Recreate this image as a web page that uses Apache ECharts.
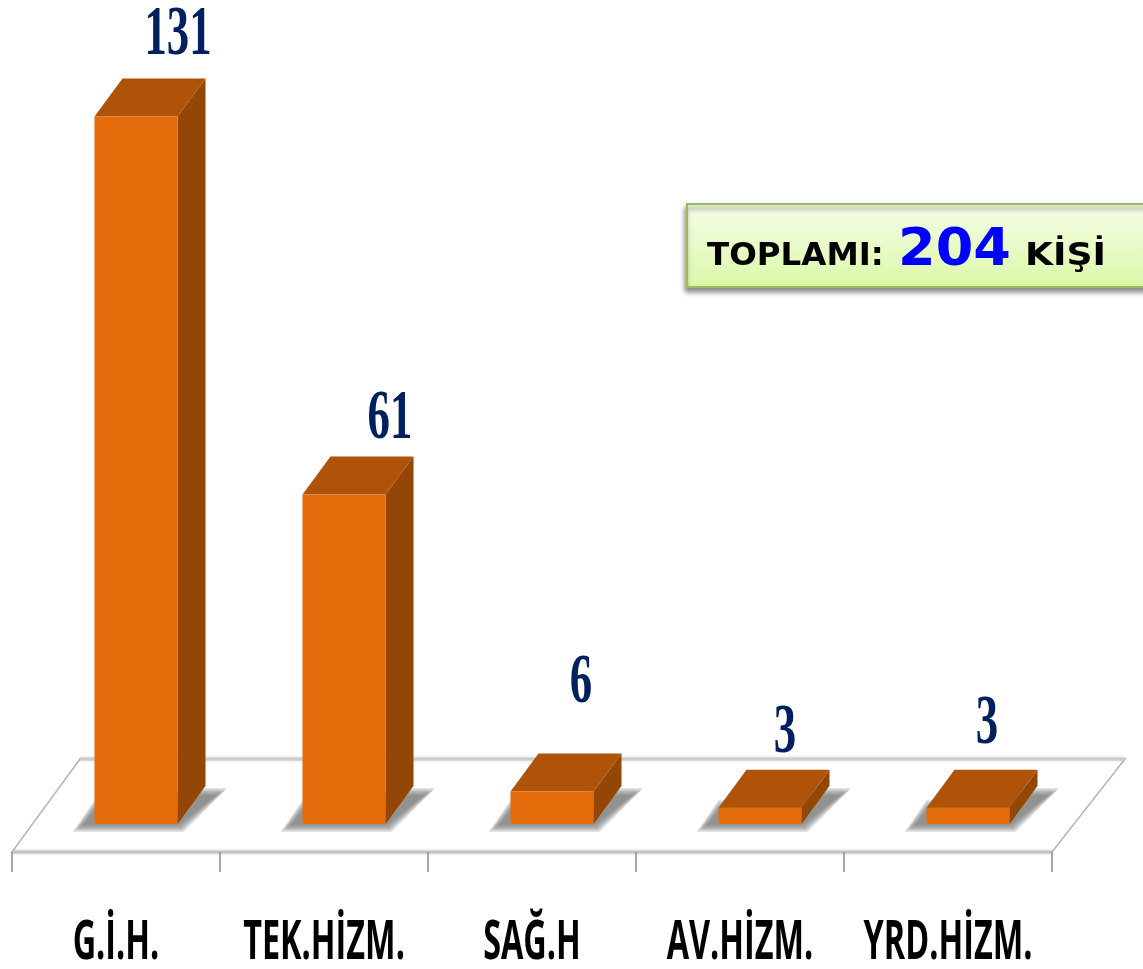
<!DOCTYPE html>
<html>
<head>
<meta charset="utf-8">
<style>html,body{margin:0;padding:0;background:#fff}#main{width:1143px;height:969px}</style>
<script src="https://cdn.jsdelivr.net/npm/echarts@6/dist/echarts.min.js"></script>
</head>
<body>
<div id="main"></div>
<script>
var categories = ['G.İ.H.', 'TEK.HİZM.', 'SAĞ.H', 'AV.HİZM.', 'YRD.HİZM.'];
var values = [131, 61, 6, 3, 3];
var total = 204;

// the value labels were placed by hand in the original
var labelShiftX = [42, 46, 29, 25, 19];
var labelShiftY = [43, 37, 70, 36, 45];

var chart = echarts.init(document.getElementById('main'));

// bars stand back from the axis on the floor, then get a side and top face
var backX = 20, backY = 28;
var barWidth = 83;
var depthX = 28, depthY = 38;

// floor shadow: stacked see-through polygons, each a bit bigger, gives a soft edge
function shadowLayers(x0, x1, y0) {
    var layers = [];
    for (var g = 10; g >= 0; g -= 2) {
        layers.push({
            type: 'polygon',
            shape: {
                points: [
                    [x0 - 12 - g, y0 + 1 + g * 0.7],
                    [x1 + 1 + g * 0.5, y0 + 1 + g * 0.7],
                    [x1 + depthX + 12 + g, y0 - depthY + 9 - g * 0.7],
                    [x1 + depthX, y0 - depthY + 9 - g * 0.7],
                    [x0, y0 - 14 - g]
                ]
            },
            style: { fill: 'rgba(110,110,110,0.2)' }
        });
    }
    return layers;
}

function renderBar(params, api) {
    var i = params.dataIndex;
    var v = api.value(1);
    var base = api.coord([api.value(0), 0]);
    var top = api.coord([api.value(0), v]);
    var x0 = base[0] + backX - barWidth / 2;
    var x1 = x0 + barWidth;
    var y0 = base[1] - backY;
    var y1 = top[1] - backY;
    return {
        type: 'group',
        children: shadowLayers(x0, x1, y0).concat([
            {
                type: 'polygon',
                shape: { points: [[x1, y1], [x1 + depthX, y1 - depthY], [x1 + depthX, y0 - depthY], [x1, y0]] },
                style: { fill: '#934605' }
            },
            {
                type: 'polygon',
                shape: { points: [[x0, y1], [x0 + depthX, y1 - depthY], [x1 + depthX, y1 - depthY], [x1, y1]] },
                style: { fill: '#AE5307' }
            },
            {
                type: 'rect',
                shape: { x: x0, y: y1, width: barWidth, height: y0 - y1 },
                style: { fill: '#E46C0A' }
            },
            { // value label, squeezed to the narrow serif of the original
                type: 'text',
                x: x0 + barWidth / 2 + labelShiftX[i],
                y: y1 - depthY - labelShiftY[i],
                scaleX: 0.64,
                style: {
                    text: String(v),
                    font: 'bold 70px "Liberation Serif"',
                    fill: '#002060',
                    align: 'center',
                    verticalAlign: 'middle'
                }
            },
            { // category label, drawn here because axisLabel cannot be condensed
                type: 'text',
                x: base[0],
                y: base[1] + 92,
                scaleX: 0.6,
                style: {
                    text: categories[i],
                    font: 'bold 54px "Open Sans"',
                    fill: '#000000',
                    align: 'center',
                    verticalAlign: 'middle'
                }
            }
        ])
    };
}

var totalStyle = { font: 'bold 32px "DejaVu Sans"', fill: '#000000', verticalAlign: 'bottom' };

var option = {
    animation: false,
    backgroundColor: '#ffffff',
    grid: { left: 12, right: 91, top: 42, bottom: 117 },
    xAxis: {
        type: 'category',
        data: categories,
        offset: 4,
        axisLine: { show: false },
        axisTick: { show: true, length: 20, lineStyle: { color: '#8c8c8c', width: 1.5 } },
        axisLabel: { show: false }
    },
    yAxis: {
        type: 'value',
        min: 0,
        max: 150,
        show: false
    },
    graphic: [
        { // floor plane
            type: 'polygon',
            z: 0,
            shape: { points: [[12, 852], [1052, 852], [1125, 759], [80, 759]] },
            style: { fill: '#ffffff', stroke: '#b4b4b4', lineWidth: 1.5 }
        },
        {
            type: 'line',
            z: 0,
            shape: { x1: 12, y1: 852, x2: 1052, y2: 852 },
            style: { stroke: '#c4c4c4', lineWidth: 3, shadowBlur: 3, shadowColor: 'rgba(0,0,0,0.2)' }
        },
        {
            type: 'line',
            z: 0,
            shape: { x1: 80, y1: 759, x2: 1125, y2: 759 },
            style: { stroke: '#cccccc', lineWidth: 3, shadowBlur: 3, shadowColor: 'rgba(0,0,0,0.2)' }
        },
        { // total box runs off the right edge
            type: 'rect',
            z: 10,
            shape: { x: 687, y: 204, width: 480, height: 83 },
            style: {
                fill: new echarts.graphic.LinearGradient(0, 0, 0, 1, [
                    { offset: 0, color: '#F6FDE8' },
                    { offset: 1, color: '#DAF8A8' }
                ]),
                stroke: '#9BBB59',
                lineWidth: 2,
                shadowBlur: 5,
                shadowOffsetX: -1,
                shadowOffsetY: 4,
                shadowColor: 'rgba(0,0,0,0.45)'
            }
        },
        {
            type: 'text',
            z: 11,
            x: 707,
            y: 273,
            scaleX: 1.015,
            style: Object.assign({ text: 'TOPLAMI:' }, totalStyle)
        },
        {
            type: 'text',
            z: 11,
            x: 898,
            y: 277,
            scaleX: 1.04,
            style: { text: String(total), font: 'bold 52px "DejaVu Sans"', fill: '#0000FF', verticalAlign: 'bottom' }
        },
        {
            type: 'text',
            z: 11,
            x: 1025,
            y: 273,
            scaleX: 1.13,
            style: Object.assign({ text: 'KİŞİ' }, totalStyle)
        }
    ],
    series: [
        {
            type: 'custom',
            renderItem: renderBar,
            clip: false,
            encode: { x: 0, y: 1 },
            z: 5,
            data: values.map(function (v, i) { return [i, v]; })
        }
    ]
};
chart.setOption(option);
</script>
</body>
</html>
